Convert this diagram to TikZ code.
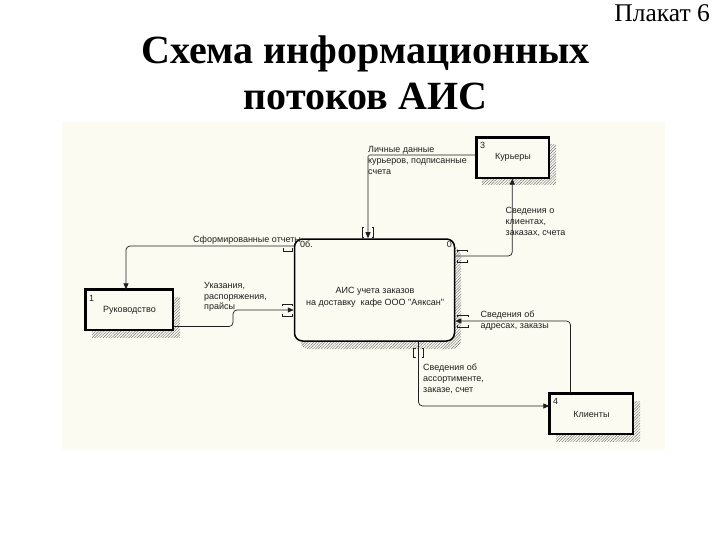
\documentclass[tikz,border=0pt]{standalone}
\usepackage{fontspec}
\setmainfont{Liberation Serif}
\newfontfamily\lsans{Liberation Sans}
\usetikzlibrary{arrows.meta,patterns.meta}
\definecolor{cream}{RGB}{252,251,241}
\definecolor{ink}{RGB}{30,30,30}
\begin{document}
\begin{tikzpicture}[x=1pt,y=-1pt,
  lbl/.style={font=\lsans\fontsize{9}{10.8}\selectfont, text=ink, inner sep=0pt, anchor=north west, align=left},
  boxtxt/.style={font=\lsans\fontsize{9}{11.5}\selectfont, text=ink, inner sep=0pt, align=center},
  numlbl/.style={font=\lsans\fontsize{9}{10}\selectfont, text=ink, inner sep=0pt, anchor=north west},
  flow/.style={draw=ink, line width=0.7pt, rounded corners=4pt, -{Triangle[length=6pt,width=5pt]}},
  brk/.style={draw=ink, line width=0.6pt},
  shade/.style={pattern={Lines[angle=45,distance=2pt,line width=0.45pt]}, pattern color=black!55},
  extbox/.style={draw=black, line width=1.3pt, fill=cream, inner sep=0pt, font=\lsans\fontsize{9}{10}\selectfont, text=ink},
  thickedge/.style={draw=black, line width=3pt},
  mainbox/.style={draw=black, line width=1.5pt, fill=cream, rounded corners=8pt, minimum width=160pt, minimum height=102pt, inner sep=0pt}
]
\useasboundingbox (0,0) rectangle (720,540);
\fill[white] (0,0) rectangle (720,540);
\fill[cream] (62,122) rectangle (665,450);

% titles
\node[font=\fontsize{25.5}{28}\selectfont, anchor=base east, inner sep=0pt] (plakat) at (710,22) {Плакат 6};
\node[font=\bfseries\fontsize{40}{46}\selectfont, anchor=base, inner sep=0pt] (title1) at (365.5,64) {Схема информационных};
\node[font=\bfseries\fontsize{40}{46}\selectfont, anchor=base, inner sep=0pt] (title2) at (365.5,110) {потоков АИС};

% shadows
\fill[shade, rounded corners=8pt] (300.5,247) rectangle (461,349);
\fill[shade] (92,297) rectangle (180,337);
\fill[shade] (482,145) rectangle (556,185);
\fill[shade] (556,401) rectangle (640,441);

% main box
\node[mainbox] (ais) at (374.5,290) {};
\node[boxtxt] (aistext) at (375,297.5) {АИС учета заказов\\на доставку\ \ кафе ООО "Аяксан"};
\node[numlbl] (aisnum) at (300,241) {0б.};
\node[numlbl, anchor=north east] (aisnum2) at (452,241) {0};

% external entities
\node[extbox, minimum width=87pt, minimum height=40pt] (ruk) at (129.5,310) {Руководство};
\draw[thickedge] (ruk.south west) -- (ruk.north west) -- (ruk.north east);
\node[numlbl] (ruknum) at (89,295) {1};

\node[extbox, minimum width=72pt, minimum height=40pt] (kur) at (513,158) {\raisebox{3pt}{Курьеры}};
\draw[thickedge] (kur.south west) -- (kur.north west) -- (kur.north east);
\node[numlbl] (kurnum) at (480,142) {3};

\node[extbox, minimum width=83pt, minimum height=40pt] (kli) at (591.5,414) {Клиенты};
\draw[thickedge] (kli.south west) -- (kli.north west) -- (kli.north east);
\node[numlbl] (klinum) at (553,398) {4};

% helper coordinate for the bend of the "Указания" flow
\coordinate (b2) at (233,318);

% flows
\draw[flow] ([yshift=44pt]ais.west) -| ([xshift=-3.5pt]ruk.north);
\draw[flow] ([yshift=-16.5pt]ruk.east) -| (b2) |- ([yshift=-20pt]ais.west);
\draw[flow, rounded corners=1.5pt] ([yshift=3pt]kur.west) -| ([xshift=-6.5pt]ais.north);
\draw[flow] ([yshift=34pt]ais.east) -| ([xshift=-0.7pt]kur.south);
\draw[flow] ([xshift=-21pt]kli.north) |- ([yshift=-31pt]ais.east);
\draw[flow] ([xshift=44pt]ais.south) |- ([yshift=8pt]kli.west);

% tunnel brackets
\draw[brk] (364,227) -| (362,237) -- (364,237);
\draw[brk] (371.5,227) -| (373.5,237) -- (371.5,237);
\draw[brk] (415.5,348) -| (413.5,357) -- (415.5,357);
\draw[brk] (421.5,348) -| (423.5,357) -- (421.5,357);
\draw[brk] (457,252) |- (467,250) -- (467,252);
\draw[brk] (457,260) |- (467,262) -- (467,260);
\draw[brk] (457,317) |- (468,315) -- (468,317);
\draw[brk] (457,325) |- (468,327) -- (468,325);
\draw[brk] (282,306) |- (292,304) -- (292,306);
\draw[brk] (282,314) |- (292,316) -- (292,314);
\draw[brk] (283,248) |- (292,251) -- (292,248);

% flow labels
\node[lbl] (l1) at (193,236) {Сформированные отчеты};
\node[lbl] (l2) at (204,282) {Указания,\\распоряжения,\\прайсы};
\node[lbl] (l3) at (368,146.5) {Личные данные\\курьеров, подписанные\\счета};
\node[lbl] (l4) at (505.5,207.2) {Сведения о\\клиентах,\\заказах, счета};
\node[lbl] (l5) at (480.5,310.5) {Сведения об\\адресах, заказы};
\node[lbl] (l6) at (423,363.8) {Сведения об\\ассортименте,\\заказе, счет};
\end{tikzpicture}
\end{document}
